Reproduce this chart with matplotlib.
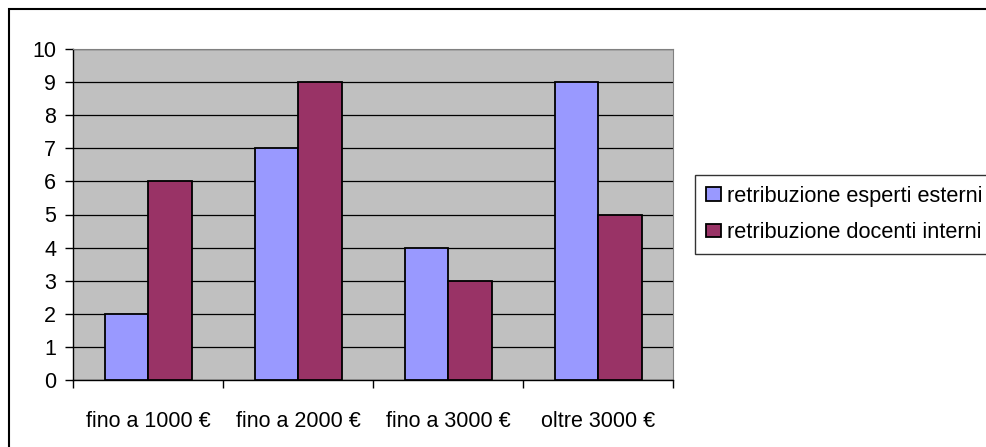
import matplotlib.pyplot as plt
import numpy as np
from matplotlib.patches import Rectangle

categories = ["fino a 1000 €", "fino a 2000 €", "fino a 3000 €", "oltre 3000 €"]
esperti_esterni = [2, 7, 4, 9]
docenti_interni = [6, 9, 3, 5]
labels = ["retribuzione esperti esterni", "retribuzione docenti interni"]

plt.rcParams["font.family"] = ["Liberation Sans", "DejaVu Sans"]

fig = plt.figure(figsize=(9.86, 4.47), dpi=100)
ax = fig.add_axes([73 / 986, 1 - 380 / 447, 600 / 986, 331 / 447])
ax.set_facecolor("#C0C0C0")

x = np.arange(len(categories))
w = 0.29
ax.bar(x - w / 2, esperti_esterni, w, color="#9999FF", edgecolor="black",
       linewidth=1.3, label=labels[0], zorder=3)
ax.bar(x + w / 2, docenti_interni, w, color="#993366", edgecolor="black",
       linewidth=1.3, label=labels[1], zorder=3)

ax.set_xlim(-0.5, len(categories) - 0.5)
ax.set_ylim(0, 10)
ax.set_yticks(range(0, 11))
ax.yaxis.grid(True, color="black", linewidth=0.9, zorder=1)
ax.set_axisbelow(True)

ax.set_xticks(x)
ax.set_xticklabels(categories)
ax.set_xticks(np.arange(-0.5, len(categories)), minor=True)
ax.tick_params(axis="x", which="major", length=0, pad=22, labelsize=15.5)
ax.tick_params(axis="x", which="minor", length=6, direction="out", width=1)
ax.tick_params(axis="y", length=6, direction="out", width=1, labelsize=15.5, pad=6)

for s in ["top", "right"]:
    ax.spines[s].set_color("#808080")
for s in ["left", "bottom"]:
    ax.spines[s].set_color("black")
    ax.spines[s].set_linewidth(1)

leg = ax.legend(loc="upper left", bbox_to_anchor=(695 / 986, 1 - 175 / 447),
                bbox_transform=fig.transFigure, fontsize=15.7, frameon=True,
                fancybox=False, edgecolor="black", handlelength=0.7,
                handleheight=0.6, handletextpad=0.25, labelspacing=0.7,
                borderpad=0.5, borderaxespad=0)
leg.get_frame().set_linewidth(1)

# outer chart border (only top and left are visible in the picture)
fig.patches.append(Rectangle((9 / 986, -0.1), 1.1, 1 - 9 / 447 + 0.1,
                             transform=fig.transFigure, fill=False,
                             edgecolor="black", linewidth=1.5))

fig.savefig("out.png", dpi=100)
